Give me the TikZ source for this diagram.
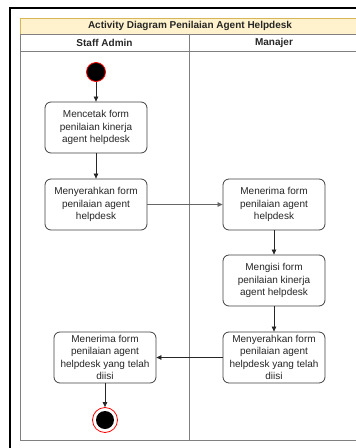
\documentclass[tikz,border=0pt]{standalone}
\usepackage{fontspec}
\setmainfont{Liberation Sans}
\usetikzlibrary{arrows.meta}
\definecolor{titlefill}{HTML}{FFF2CC}
\definecolor{titledraw}{HTML}{D6B656}
\definecolor{lanegray}{HTML}{808080}
\definecolor{boxdraw}{HTML}{404040}
\tikzset{
  act/.style={draw=boxdraw, line width=0.8pt, rounded corners=6pt, fill=white,
    minimum width=102pt, minimum height=51pt, align=center, inner sep=2pt,
    font=\fontsize{10}{12.5}\selectfont, text=black!85},
  flow/.style={draw=black!85, line width=0.7pt, -{Triangle[length=5pt,width=4.5pt]}},
  lane/.style={draw=lanegray, line width=0.8pt},
  hdr/.style={font=\fontsize{10}{12}\selectfont\bfseries, text=black!85},
}
\begin{document}
\begin{tikzpicture}[x=1pt,y=-1pt]
\useasboundingbox (0,0) rectangle (356,448);
\begin{scope}
\clip (0,0) rectangle (356,448);
% outer frame
\draw[line width=2pt, black] (10,7.5) rectangle (400,470);
% title bar
\filldraw[fill=titlefill, draw=titledraw, line width=0.6pt] (20,18) rectangle (400,34);
\node[hdr] (title) at (190,26) {Activity Diagram Penilaian Agent Helpdesk};
% lanes
\draw[lane] (20,34) rectangle (400,440);
\draw[lane] (20,51.5) -- (400,51.5);
\draw[lane] (189,34) -- (189,440);
\end{scope}
\node[hdr] (lane1) at (104.5,42.8) {Staff Admin};
\node[hdr] (lane2) at (274,42.8) {Manajer};
% start
\node[circle, fill=black, draw=red, line width=0.8pt, minimum size=19pt, inner sep=0pt] (start) at (96,72) {};
% activities
\node[act] (a1) at (96,127.5) {Mencetak form\\penilaian kinerja\\agent helpdesk};
\node[act] (a2) at (96,204.5) {Menyerahkan form\\penilaian agent\\helpdesk};
\node[act] (a3) at (274,204.5) {Menerima form\\penilaian agent\\helpdesk};
\node[act] (a4) at (274,280.5) {Mengisi form\\penilaian kinerja\\agent helpdesk};
\node[act] (a5) at (274,357.5) {Menyerahkan form\\penilaian agent\\helpdesk yang telah\\diisi};
\node[act] (a6) at (105,357.5) {Menerima form\\penilaian agent\\helpdesk yang telah\\diisi};
% end
\node[circle, draw=red, line width=0.8pt, fill=white, minimum size=25pt, inner sep=0pt] (endo) at (105,420) {};
\node[circle, fill=black, minimum size=18pt, inner sep=0pt] (endi) at (105,420) {};
% flows
\draw[flow] (start) -- (a1);
\draw[flow] (a1) -- (a2);
\draw[flow, draw=black!60] (a2) -- (a3);
\draw[flow] (a3) -- (a4);
\draw[flow] (a4) -- (a5);
\draw[flow] (a5) -- (a6);
\draw[flow] (a6) -- (endo);
\end{tikzpicture}
\end{document}
